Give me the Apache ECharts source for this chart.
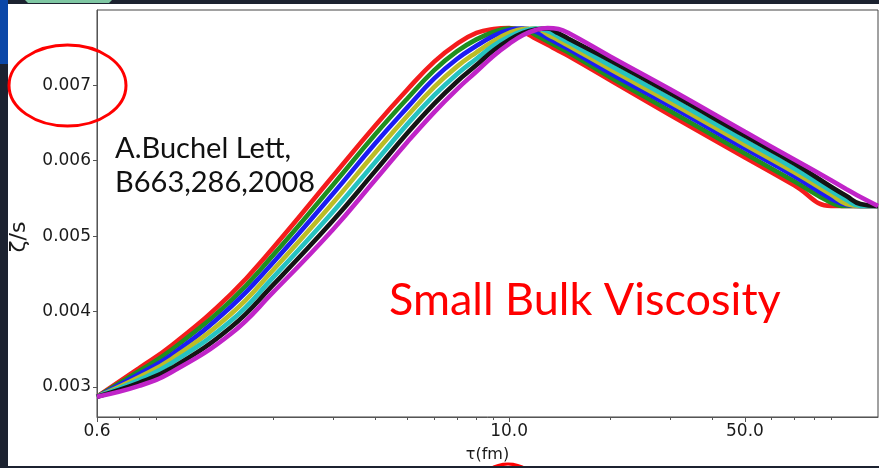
<!DOCTYPE html>
<html>
<head>
<meta charset="utf-8">
<script src="https://cdn.jsdelivr.net/npm/echarts@6/dist/echarts.min.js"></script>
<style>
html,body{margin:0;padding:0;background:#ffffff;}
#c{width:879px;height:468px;}
</style>
</head>
<body>
<div id="c"></div>
<script>
// tau (fm) sample points, shared by all curves
const tau = [0.6, 0.8, 1, 1.5, 2, 3, 4, 5, 6, 7, 8, 9, 10, 11, 12, 13, 14, 15, 20, 30, 50, 70, 90, 100, 110, 124];
// zeta/s values in units of 1e-3
const zsRed     = [2.869, 3.249, 3.551, 4.233, 4.849, 5.794, 6.462, 6.948, 7.315, 7.551, 7.695, 7.748, 7.761, 7.711, 7.620, 7.538, 7.460, 7.390, 7.066, 6.607, 6.043, 5.676, 5.400, 5.400, 5.400, 5.400];
const zsGreen   = [2.869, 3.210, 3.495, 4.148, 4.751, 5.676, 6.344, 6.830, 7.203, 7.450, 7.610, 7.708, 7.754, 7.748, 7.666, 7.584, 7.506, 7.436, 7.105, 6.659, 6.095, 5.728, 5.445, 5.400, 5.400, 5.400];
const zsBlue    = [2.869, 3.171, 3.428, 4.066, 4.653, 5.558, 6.226, 6.712, 7.092, 7.350, 7.525, 7.656, 7.735, 7.754, 7.714, 7.630, 7.552, 7.481, 7.158, 6.725, 6.161, 5.794, 5.497, 5.413, 5.400, 5.400];
const zsOlive   = [2.869, 3.131, 3.372, 3.971, 4.554, 5.439, 6.102, 6.600, 6.980, 7.249, 7.439, 7.590, 7.695, 7.748, 7.754, 7.677, 7.599, 7.527, 7.210, 6.777, 6.213, 5.846, 5.550, 5.426, 5.400, 5.400];
const zsCyan    = [2.869, 3.092, 3.318, 3.879, 4.456, 5.321, 5.977, 6.489, 6.869, 7.148, 7.354, 7.531, 7.649, 7.721, 7.754, 7.721, 7.645, 7.573, 7.262, 6.830, 6.266, 5.898, 5.602, 5.479, 5.400, 5.400];
const zsBlack   = [2.869, 3.053, 3.249, 3.794, 4.357, 5.203, 5.859, 6.371, 6.758, 7.049, 7.269, 7.466, 7.603, 7.695, 7.741, 7.754, 7.691, 7.619, 7.328, 6.895, 6.331, 5.964, 5.655, 5.531, 5.426, 5.400];
const zsMagenta = [2.869, 3.013, 3.197, 3.708, 4.259, 5.085, 5.741, 6.253, 6.646, 6.948, 7.184, 7.394, 7.551, 7.669, 7.735, 7.761, 7.748, 7.695, 7.380, 6.948, 6.384, 6.017, 5.741, 5.623, 5.518, 5.400];

const xMajorTicks = [0.6, 10, 50];
const xMinorTicks = [0.7, 0.8, 0.9, 2, 3, 4, 5, 6, 7, 8, 9, 20, 30, 40, 60, 70, 80, 90];
const yTicks = [0.003, 0.004, 0.005, 0.006, 0.007];
const xRange = [0.6, 124];
const yRange = [0.0026, 0.008];

const seriesDefs = [
  {name: 'r', color: '#f41c1c', vals: zsRed},
  {name: 'g', color: '#1f8f1f', vals: zsGreen},
  {name: 'b', color: '#1c1cf4', vals: zsBlue},
  {name: 'y', color: '#bcbc26', vals: zsOlive},
  {name: 'c', color: '#26c2c0', vals: zsCyan},
  {name: 'k', color: '#141414', vals: zsBlack},
  {name: 'm', color: '#c024c8', vals: zsMagenta}
];

const L = Math.log10;
const chart = echarts.init(document.getElementById('c'), null, {renderer: 'canvas'});
const axisColor = '#555';
const tickFont = {fontFamily: 'DejaVu Sans', fontSize: 17, color: '#1a1a1a'};

chart.setOption({
  animation: false,
  backgroundColor: '#ffffff',
  grid: {left: 97, right: 1, top: 10, bottom: 47, show: true, borderColor: '#444', borderWidth: 1, containLabel: false},
  xAxis: [
    {
      type: 'value', min: L(xRange[0]), max: L(xRange[1]),
      name: 'τ(fm)', nameLocation: 'middle', nameGap: 30,
      nameTextStyle: {fontFamily: 'DejaVu Sans', fontSize: 16, color: '#1a1a1a'},
      axisLine: {show: true, onZero: false, lineStyle: {color: axisColor, width: 1}},
      axisTick: {show: true, length: 5, customValues: xMajorTicks.map(L), lineStyle: {color: axisColor}},
      axisLabel: Object.assign({show: true, margin: 6, customValues: xMajorTicks.map(L),
        formatter: v => Math.pow(10, v).toFixed(1)}, tickFont),
      splitLine: {show: false}
    },
    {
      type: 'value', min: L(xRange[0]), max: L(xRange[1]), position: 'bottom',
      axisLine: {show: false, onZero: false},
      axisTick: {show: true, length: 3, customValues: xMinorTicks.map(L), lineStyle: {color: axisColor}},
      axisLabel: {show: false},
      splitLine: {show: false}
    }
  ],
  yAxis: {
    type: 'value', min: yRange[0], max: yRange[1],
    axisLine: {show: true, onZero: false, lineStyle: {color: axisColor, width: 1}},
    axisTick: {show: true, length: 4, customValues: yTicks, lineStyle: {color: axisColor}},
    axisLabel: Object.assign({show: true, margin: 6, customValues: yTicks, formatter: v => v.toFixed(3)}, tickFont),
    splitLine: {show: false}
  },
  series: seriesDefs.map((s, i) => ({
    type: 'line', name: s.name, xAxisIndex: 0,
    data: tau.map((t, j) => [L(t), s.vals[j] / 1000]),
    showSymbol: false, symbol: 'none', smooth: 0.45,
    lineStyle: {color: s.color, width: 4.6},
    z: 2 + i, clip: true
  })),
  graphic: [
    // slide frame
    {type: 'rect', shape: {x: 0, y: 0, width: 879, height: 4}, style: {fill: '#1c2230'}, z: 100},
    {type: 'rect', shape: {x: 0, y: 0, width: 8, height: 468}, style: {fill: '#1c2230'}, z: 100},
    {type: 'rect', shape: {x: 0, y: 0, width: 8, height: 64}, style: {fill: '#0b47a8'}, z: 101},
    {type: 'polygon', shape: {points: [[25, 0], [112, 0], [109, 3], [28, 3]]}, style: {fill: '#7fc7a3'}, z: 101},
    // small red mark at bottom
    {type: 'ellipse', shape: {cx: 508, cy: 498, rx: 34, ry: 34}, style: {fill: 'none', stroke: '#ff0000', lineWidth: 3}, z: 99},
    {type: 'rect', shape: {x: 0, y: 466, width: 879, height: 2}, style: {fill: '#1c2230'}, z: 100},
    // red ellipse around 0.007
    {type: 'ellipse', shape: {cx: 67.5, cy: 85.5, rx: 58.5, ry: 40.5}, style: {fill: 'none', stroke: '#ff0000', lineWidth: 3}, z: 102},
    // y axis title
    {type: 'text', x: 19, y: 237, rotation: Math.PI / 2, style: {text: 'ζ/s', font: '22px "DejaVu Sans"', fill: '#1a1a1a', align: 'center', verticalAlign: 'middle'}, z: 102},
    // annotations
    {type: 'text', x: 115, y: 148.5, style: {text: 'A.Buchel Lett,', font: '29px Lato', fill: '#111111', verticalAlign: 'middle'}, z: 102},
    {type: 'text', x: 115, y: 182.5, style: {text: 'B663,286,2008', font: '29px Lato', fill: '#111111', verticalAlign: 'middle'}, z: 102},
    {type: 'text', x: 389, y: 300, style: {text: 'Small Bulk Viscosity', font: '45px Lato', fill: '#ff0000', verticalAlign: 'middle'}, z: 102}
  ]
});
</script>
</body>
</html>
